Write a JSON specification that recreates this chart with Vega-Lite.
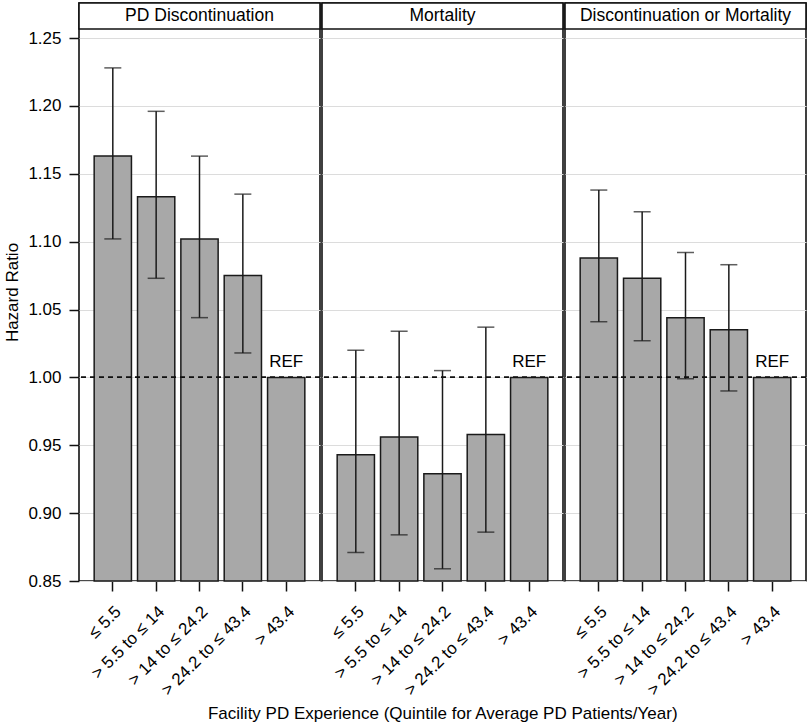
{
  "$schema": "https://vega.github.io/schema/vega-lite/v6.json",
  "padding": {"left": 3, "top": 1, "right": 0, "bottom": 0},
  "title": {
    "text": "Facility PD Experience (Quintile for Average PD Patients/Year)",
    "orient": "bottom",
    "anchor": "middle",
    "frame": "bounds",
    "dx": 37,
    "fontSize": 17,
    "fontWeight": "normal",
    "color": "#000",
    "offset": 8
  },
  "config": {
    "font": "Liberation Sans",
    "view": {"stroke": "#111", "strokeWidth": 1.6},
    "axis": {"labelColor": "#000", "titleColor": "#000", "tickColor": "#111", "domain": false},
    "title": {"font": "Liberation Sans"}
  },
  "data": {
    "values": [
      {"panel": "PD Discontinuation", "grp": "≤ 5.5", "hr": 1.163, "lo": 1.102, "hi": 1.228},
      {"panel": "PD Discontinuation", "grp": "> 5.5 to ≤ 14", "hr": 1.133, "lo": 1.073, "hi": 1.196},
      {"panel": "PD Discontinuation", "grp": "> 14 to ≤ 24.2", "hr": 1.102, "lo": 1.044, "hi": 1.163},
      {"panel": "PD Discontinuation", "grp": "> 24.2 to ≤ 43.4", "hr": 1.075, "lo": 1.018, "hi": 1.135},
      {"panel": "PD Discontinuation", "grp": "> 43.4", "hr": 1.0, "lo": null, "hi": null},
      {"panel": "Mortality", "grp": "≤ 5.5", "hr": 0.943, "lo": 0.871, "hi": 1.020},
      {"panel": "Mortality", "grp": "> 5.5 to ≤ 14", "hr": 0.956, "lo": 0.884, "hi": 1.034},
      {"panel": "Mortality", "grp": "> 14 to ≤ 24.2", "hr": 0.929, "lo": 0.859, "hi": 1.005},
      {"panel": "Mortality", "grp": "> 24.2 to ≤ 43.4", "hr": 0.958, "lo": 0.886, "hi": 1.037},
      {"panel": "Mortality", "grp": "> 43.4", "hr": 1.0, "lo": null, "hi": null},
      {"panel": "Discontinuation or Mortality", "grp": "≤ 5.5", "hr": 1.088, "lo": 1.041, "hi": 1.138},
      {"panel": "Discontinuation or Mortality", "grp": "> 5.5 to ≤ 14", "hr": 1.073, "lo": 1.027, "hi": 1.122},
      {"panel": "Discontinuation or Mortality", "grp": "> 14 to ≤ 24.2", "hr": 1.044, "lo": 0.999, "hi": 1.092},
      {"panel": "Discontinuation or Mortality", "grp": "> 24.2 to ≤ 43.4", "hr": 1.035, "lo": 0.990, "hi": 1.083},
      {"panel": "Discontinuation or Mortality", "grp": "> 43.4", "hr": 1.0, "lo": null, "hi": null}
    ]
  },
  "facet": {
    "column": {
      "field": "panel",
      "type": "nominal",
      "sort": ["PD Discontinuation", "Mortality", "Discontinuation or Mortality"],
      "header": null
    }
  },
  "spacing": 2,
  "bounds": "flush",
  "spec": {
    "width": 241,
    "height": 578,
    "encoding": {
      "x": {
        "field": "grp",
        "type": "nominal",
        "sort": ["≤ 5.5", "> 5.5 to ≤ 14", "> 14 to ≤ 24.2", "> 24.2 to ≤ 43.4", "> 43.4"],
        "scale": {"paddingInner": 0.14, "paddingOuter": 0.35},
        "axis": {
          "title": null,
          "labelAngle": -45,
          "labelFontSize": 17,
          "labelPadding": 12,
          "tickSize": 10,
          "tickWidth": 1.5
        }
      }
    },
    "layer": [
      {
        "mark": {"type": "bar", "fill": "#a8a8a8", "stroke": "#1a1a1a", "strokeWidth": 1.5},
        "encoding": {
          "y": {
            "field": "hr",
            "type": "quantitative",
            "scale": {"domain": [0.85, 1.2758], "zero": false, "nice": false},
            "axis": {
              "title": "Hazard Ratio",
              "titleFontSize": 17,
              "titleFontWeight": "normal",
              "titlePadding": 6,
              "values": [0.85, 0.9, 0.95, 1.0, 1.05, 1.1, 1.15, 1.2, 1.25],
              "format": ".2f",
              "labelFontSize": 17,
              "labelPadding": 8,
              "tickSize": 10,
              "tickWidth": 1.5,
              "grid": true,
              "gridColor": "#dcdcdc",
              "gridWidth": 1
            }
          },
          "y2": {"datum": 0.85}
        }
      },
      {
        "transform": [{"filter": "datum.lo != null"}],
        "mark": {"type": "rule", "color": "#1a1a1a", "strokeWidth": 1.5},
        "encoding": {
          "y": {"field": "lo", "type": "quantitative"},
          "y2": {"field": "hi"}
        }
      },
      {
        "transform": [{"filter": "datum.lo != null"}],
        "mark": {"type": "tick", "color": "#1a1a1a", "size": 17, "thickness": 1.5},
        "encoding": {"y": {"field": "lo", "type": "quantitative"}}
      },
      {
        "transform": [{"filter": "datum.lo != null"}],
        "mark": {"type": "tick", "color": "#1a1a1a", "size": 17, "thickness": 1.5},
        "encoding": {"y": {"field": "hi", "type": "quantitative"}}
      },
      {
        "mark": {"type": "rule", "color": "#111", "strokeWidth": 1.2, "strokeDash": [5, 4]},
        "encoding": {"y": {"datum": 1.0}, "x": null}
      },
      {
        "transform": [{"filter": "datum.lo == null"}],
        "mark": {"type": "text", "fontSize": 17, "baseline": "alphabetic", "dy": -10, "color": "#000"},
        "encoding": {
          "y": {"field": "hr", "type": "quantitative"},
          "text": {"value": "REF"}
        }
      },
      {
        "transform": [{"filter": "datum.lo == null"}],
        "mark": {"type": "rect", "fill": "white", "stroke": "#111", "strokeWidth": 1.6},
        "encoding": {
          "x": null,
          "y": {"datum": 1.2566},
          "y2": {"datum": 1.2758}
        }
      },
      {
        "transform": [{"filter": "datum.lo == null"}],
        "mark": {"type": "text", "fontSize": 17.5, "baseline": "middle", "align": "center", "color": "#000"},
        "encoding": {
          "x": null,
          "y": {"datum": 1.2662},
          "text": {"field": "panel", "type": "nominal"}
        }
      }
    ]
  }
}
